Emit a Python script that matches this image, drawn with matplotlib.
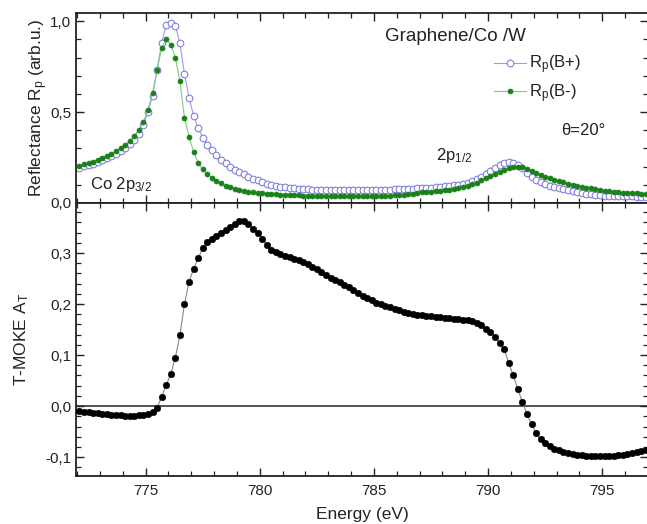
import numpy as np
import matplotlib
matplotlib.use("Agg")
import matplotlib.pyplot as plt
from matplotlib.ticker import MultipleLocator, FuncFormatter

plt.rcParams['font.family'] = ['Liberation Sans', 'DejaVu Sans']
plt.rcParams['mathtext.fontset'] = 'custom'
plt.rcParams['mathtext.rm'] = 'Liberation Sans'
plt.rcParams['mathtext.it'] = 'Liberation Sans'
plt.rcParams['mathtext.default'] = 'regular'

# photon energy (eV)
energy = [772.1, 772.3, 772.5, 772.7, 772.9, 773.1, 773.3, 773.5, 773.7, 773.9,
          774.1, 774.3, 774.5, 774.7, 774.9, 775.1, 775.3, 775.5, 775.7, 775.9,
          776.1, 776.3, 776.5, 776.7, 776.9, 777.1, 777.3, 777.5, 777.7, 777.9,
          778.1, 778.3, 778.5, 778.7, 778.9, 779.1, 779.3, 779.5, 779.7, 779.9,
          780.1, 780.3, 780.5, 780.7, 780.9, 781.1, 781.3, 781.5, 781.7, 781.9,
          782.1, 782.3, 782.5, 782.7, 782.9, 783.1, 783.3, 783.5, 783.7, 783.9,
          784.1, 784.3, 784.5, 784.7, 784.9, 785.1, 785.3, 785.5, 785.7, 785.9,
          786.1, 786.3, 786.5, 786.7, 786.9, 787.1, 787.3, 787.5, 787.7, 787.9,
          788.1, 788.3, 788.5, 788.7, 788.9, 789.1, 789.3, 789.5, 789.7, 789.9,
          790.1, 790.3, 790.5, 790.7, 790.9, 791.1, 791.3, 791.5, 791.7, 791.9,
          792.1, 792.3, 792.5, 792.7, 792.9, 793.1, 793.3, 793.5, 793.7, 793.9,
          794.1, 794.3, 794.5, 794.7, 794.9, 795.1, 795.3, 795.5, 795.7, 795.9,
          796.1, 796.3, 796.5, 796.7, 796.9]

# reflectance, B+ (open circles)
rp_plus = [0.195, 0.202, 0.209, 0.217, 0.226, 0.235, 0.245, 0.257, 0.270, 0.285,
           0.302, 0.322, 0.348, 0.382, 0.430, 0.500, 0.590, 0.730, 0.880, 0.980,
           0.990, 0.975, 0.880, 0.710, 0.580, 0.480, 0.410, 0.360, 0.320, 0.290,
           0.262, 0.238, 0.218, 0.200, 0.184, 0.170, 0.157, 0.145, 0.134, 0.124,
           0.115, 0.107, 0.100, 0.095, 0.090, 0.086, 0.083, 0.080, 0.078, 0.076,
           0.075, 0.074, 0.073, 0.073, 0.072, 0.072, 0.072, 0.071, 0.071, 0.071,
           0.071, 0.071, 0.071, 0.072, 0.072, 0.072, 0.073, 0.073, 0.074, 0.075,
           0.076, 0.077, 0.078, 0.079, 0.080, 0.082, 0.083, 0.085, 0.087, 0.089,
           0.091, 0.094, 0.097, 0.101, 0.106, 0.112, 0.120, 0.130, 0.142, 0.157,
           0.174, 0.192, 0.208, 0.220, 0.225, 0.222, 0.210, 0.190, 0.165, 0.142,
           0.126, 0.114, 0.104, 0.096, 0.089, 0.082, 0.076, 0.070, 0.065, 0.060,
           0.056, 0.052, 0.048, 0.045, 0.043, 0.041, 0.040, 0.039, 0.038, 0.037,
           0.036, 0.036, 0.035, 0.035, 0.035]

# reflectance, B- (filled circles)
rp_minus = [0.205, 0.212, 0.220, 0.228, 0.237, 0.247, 0.258, 0.270, 0.284, 0.300,
            0.318, 0.340, 0.366, 0.400, 0.445, 0.510, 0.605, 0.730, 0.855, 0.900,
            0.870, 0.800, 0.670, 0.470, 0.364, 0.280, 0.222, 0.185, 0.160, 0.140,
            0.123, 0.108, 0.096, 0.087, 0.079, 0.073, 0.068, 0.063, 0.060, 0.057,
            0.054, 0.052, 0.050, 0.048, 0.046, 0.045, 0.044, 0.043, 0.042, 0.041,
            0.040, 0.040, 0.039, 0.039, 0.038, 0.038, 0.038, 0.038, 0.038, 0.038,
            0.038, 0.038, 0.038, 0.038, 0.038, 0.039, 0.039, 0.040, 0.041, 0.042,
            0.044, 0.046, 0.049, 0.052, 0.055, 0.058, 0.061, 0.063, 0.066, 0.068,
            0.071, 0.074, 0.078, 0.083, 0.088, 0.094, 0.102, 0.112, 0.124, 0.136,
            0.148, 0.160, 0.172, 0.183, 0.193, 0.199, 0.200, 0.196, 0.188, 0.178,
            0.166, 0.155, 0.145, 0.135, 0.127, 0.120, 0.113, 0.106, 0.100, 0.094,
            0.089, 0.084, 0.080, 0.076, 0.072, 0.068, 0.065, 0.062, 0.059, 0.057,
            0.055, 0.054, 0.053, 0.052, 0.052]

# T-MOKE asymmetry
tmoke = [-0.010, -0.011, -0.012, -0.013, -0.014, -0.015, -0.016, -0.017, -0.018, -0.018,
         -0.019, -0.019, -0.019, -0.018, -0.017, -0.015, -0.012, -0.003, 0.018, 0.041,
         0.063, 0.095, 0.139, 0.200, 0.244, 0.269, 0.290, 0.309, 0.322, 0.328,
         0.333, 0.339, 0.345, 0.351, 0.357, 0.362, 0.363, 0.357, 0.348, 0.339,
         0.328, 0.316, 0.306, 0.301, 0.298, 0.295, 0.292, 0.289, 0.286, 0.282,
         0.278, 0.273, 0.268, 0.262, 0.256, 0.251, 0.247, 0.243, 0.238, 0.233,
         0.227, 0.221, 0.216, 0.211, 0.207, 0.203, 0.200, 0.197, 0.194, 0.191,
         0.188, 0.185, 0.183, 0.181, 0.179, 0.178, 0.177, 0.176, 0.175, 0.174,
         0.173, 0.172, 0.171, 0.170, 0.169, 0.168, 0.166, 0.163, 0.159, 0.152,
         0.145, 0.136, 0.123, 0.111, 0.085, 0.060, 0.033, 0.008, -0.015, -0.036,
         -0.053, -0.065, -0.073, -0.079, -0.084, -0.087, -0.090, -0.092, -0.094, -0.095,
         -0.096, -0.097, -0.097, -0.098, -0.098, -0.098, -0.097, -0.097, -0.096, -0.095,
         -0.094, -0.092, -0.090, -0.088, -0.086]

txt = '#222222'
comma = FuncFormatter(lambda v, p: ('%.1f' % v).replace('.', ','))

fig = plt.figure(figsize=(6.47, 5.24), dpi=100)
ax1 = fig.add_axes([0.1175, 0.6126, 0.884, 0.3626])
ax2 = fig.add_axes([0.1175, 0.0916, 0.884, 0.521])

# top panel: reflectance
ax1.plot(energy, rp_plus, '-o', color='#9a9aee', lw=0.8, ms=4.8, mfc='white',
         mec='#8080e0', mew=0.8, label='R$_p$(B+)', zorder=2)
ax1.plot(energy, rp_minus, '-o', color='#7fcc7f', lw=0.8, ms=3.6, mfc='#1a801a',
         mec='#1a801a', mew=0.5, label='R$_p$(B-)', zorder=3)
ax1.set_ylim(0, 1.045)
ax1.yaxis.set_major_locator(MultipleLocator(0.5))
ax1.yaxis.set_minor_locator(MultipleLocator(0.1))
ax1.yaxis.set_major_formatter(comma)
ax1.tick_params(labelbottom=False)
ax1.set_ylabel('Reflectance R$_p$ (arb.u.)', fontsize=12.5, color=txt)
ax1.yaxis.set_label_coords(-0.045, 0.5)

leg = ax1.legend(loc='upper left', bbox_to_anchor=(0.72, 0.82), frameon=False,
                 fontsize=12, handlelength=1.9, handletextpad=0.2,
                 labelspacing=0.35, borderaxespad=0)
for t in leg.get_texts():
    t.set_color(txt)

ax1.text(0.541, 0.874, 'Graphene/Co /W', transform=ax1.transAxes, fontsize=13.5,
         color=txt, va='center')
ax1.text(0.848, 0.384, 'θ=20°', transform=ax1.transAxes, fontsize=12,
         color=txt, va='center')
ax1.text(0.629, 0.25, '2p$_{1/2}$', transform=ax1.transAxes, fontsize=12,
         color=txt, va='center')
ax1.text(0.025, 0.095, 'Co 2p$_{3/2}$', transform=ax1.transAxes, fontsize=12,
         color=txt, va='center')

# bottom panel: T-MOKE
ax2.axhline(0, color='#555555', lw=1.4, zorder=1)
ax2.plot(energy, tmoke, '-o', color='#888888', lw=0.8, ms=4.8, mfc='black',
         mec='black', mew=0.3, zorder=3)
ax2.set_ylim(-0.137, 0.398)
ax2.yaxis.set_major_locator(MultipleLocator(0.1))
ax2.yaxis.set_minor_locator(MultipleLocator(0.02))
ax2.yaxis.set_major_formatter(comma)
ax2.set_ylabel('T-MOKE A$_T$', fontsize=12.5, color=txt)
ax2.yaxis.set_label_coords(-0.078, 0.5)
ax2.set_xlabel('Energy (eV)', fontsize=12.5, color=txt, labelpad=6)

for ax in (ax1, ax2):
    ax.set_xlim(771.95, 797.0)
    ax.xaxis.set_major_locator(MultipleLocator(5))
    ax.xaxis.set_minor_locator(MultipleLocator(1))
    ax.tick_params(which='both', direction='in', top=True, right=True,
                   labelsize=11, labelcolor=txt, color='#222222')
    ax.tick_params(which='major', length=6, width=1.0)
    ax.tick_params(which='minor', length=3.5, width=0.9)
    ax.tick_params(axis='x', pad=6)
    for s in ax.spines.values():
        s.set_linewidth(1.3)
        s.set_color('#222222')
    ax.spines['right'].set_visible(False)

fig.savefig('out.png', dpi=100)
